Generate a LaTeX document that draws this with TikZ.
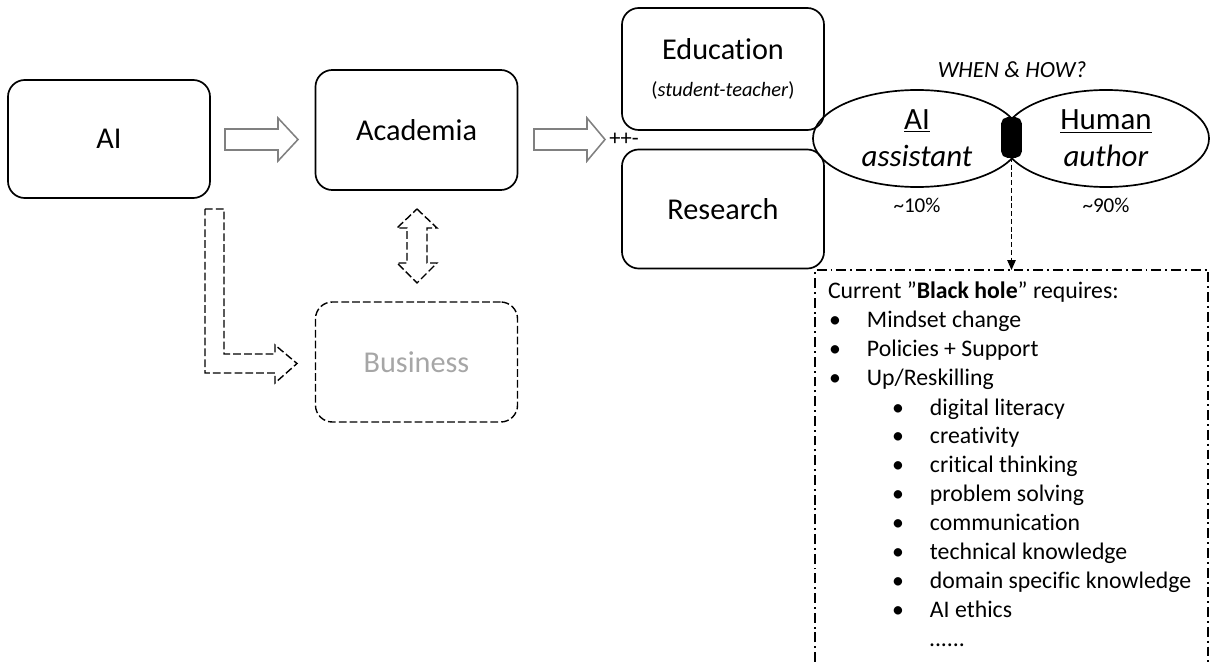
\documentclass[tikz,border=0pt]{standalone}
\usepackage{fontspec}
\setmainfont{Carlito}[Ligatures={TeX,NoCommon}]
\usetikzlibrary{arrows.meta,shapes.geometric}
\definecolor{arrgray}{RGB}{128,128,128}
\definecolor{txtgray}{RGB}{166,166,166}
\newcommand{\boxfont}{\fontsize{21.5}{25}\selectfont}
\newcommand{\ellfont}{\fontsize{22}{26.5}\selectfont}
\newcommand{\listfont}{\fontsize{16.9}{20}\selectfont}
\newcommand{\pctfont}{\fontsize{15}{18}\selectfont}
\newcommand{\itm}[1]{\makebox[27pt][l]{\textbullet}#1}

\begin{document}
\begin{tikzpicture}[x=0.025cm,y=-0.025cm,inner sep=0pt,outer sep=0pt,very thick,
roundbox/.style={draw,rectangle,rounded corners=12pt,minimum width=5.05cm,minimum height=3cm,font=\boxfont,align=center},
blockarrow/.style={draw=arrgray,line width=1.1pt,fill=white},
dashbox/.style={draw,dash pattern=on 5.5pt off 2.2pt,line width=1pt},
halfell/.style={draw,ellipse,minimum width=5.2cm,minimum height=2.425cm,font=\ellfont,align=center},
reqframe/.style={line width=1pt,dash pattern=on 7pt off 2.8pt on 1.4pt off 2.8pt},
listline/.style={anchor=base west,font=\listfont}]

\useasboundingbox (0,0) rectangle (1210,662);

\draw (109,139) node[roundbox,minimum height=2.95cm] (AI) {AI};
\draw (416.5,130) node[roundbox] (acad) {Academia};
\draw (416.5,362) node[roundbox,dashbox,text=txtgray] (busi) {Business};
\draw (723,69) node[roundbox,minimum height=3.05cm] (edu) {Education\\[1pt]{\fontsize{14.5}{17}\selectfont(\textit{student-teacher})}};
\draw (723,209) node[roundbox,minimum height=2.975cm] (res) {Research};

\draw (917,138.5) node[halfell] (aiass) {\underline{AI}\\\textit{assistant}};
\draw (1106,138.5) node[halfell,minimum width=5.15cm] (human) {\underline{Human}\\\textit{author}};
\draw (1011.5,137.5) node[draw,fill=black,rounded corners=4pt,minimum width=0.475cm,minimum height=0.975cm] (blackhole) {};

\draw (1012,70) node[font=\fontsize{16.5}{20}\selectfont\itshape] (when) {WHEN \& HOW?};
\draw (917,205) node[font=\pctfont] (pctai) {\textasciitilde10\%};
\draw (1106,205) node[font=\pctfont] (pcthum) {\textasciitilde90\%};
\draw (624,139) node[font=\fontsize{16}{19}\selectfont] (plus) {++-};

% block arrows
\draw[blockarrow] (225,129) -- (278,129) -- (278,118) -- (298,139.5) -- (278,161) -- (278,150) -- (225,150) -- cycle;
\draw[blockarrow] (534,129) -- (587,129) -- (587,118) -- (605,139.5) -- (587,161) -- (587,150) -- (534,150) -- cycle;
\draw[dashbox] (205,209) -- (224,209) -- (224,354) -- (275,354) -- (275,345) -- (297,363.5) -- (275,383) -- (275,373) -- (205,373) -- cycle;
\draw[dashbox] (417,209) -- (437,228) -- (427,228) -- (427,263) -- (437,263) -- (417,283) -- (397,263) -- (407,263) -- (407,228) -- (397,228) -- cycle;

% black hole box
\coordinate (reqtop) at (815,270);
\draw[reqframe] (815,662) -- (reqtop) -- (1208,270) -- (1208,662);
\draw[line width=0.7pt,dash pattern=on 3.5pt off 2pt,-{Triangle[length=7pt,width=6pt]}] (blackhole.south) -- (blackhole.south |- reqtop);

\draw (828,299) node[listline] (req) {Current ''\textbf{Black hole}'' requires:};
\draw (829,328) node[listline] (mind) {\itm{Mindset change}};
\draw (829,357) node[listline] (poli) {\itm{Policies + Support}};
\draw (829,386) node[listline] (upre) {\itm{Up/Reskilling}};
\draw (892,415) node[listline] (digi) {\itm{digital literacy}};
\draw (892,443) node[listline] (crea) {\itm{creativity}};
\draw (892,472) node[listline] (crit) {\itm{critical thinking}};
\draw (892,501) node[listline] (prob) {\itm{problem solving}};
\draw (892,530) node[listline] (comm) {\itm{communication}};
\draw (892,559) node[listline] (tech) {\itm{technical knowledge}};
\draw (892,588) node[listline] (doma) {\itm{domain specific knowledge}};
\draw (892,617) node[listline] (ethi) {\itm{AI ethics}};
\draw (929,646) node[listline] (more) {......};
\end{tikzpicture}
\end{document}
